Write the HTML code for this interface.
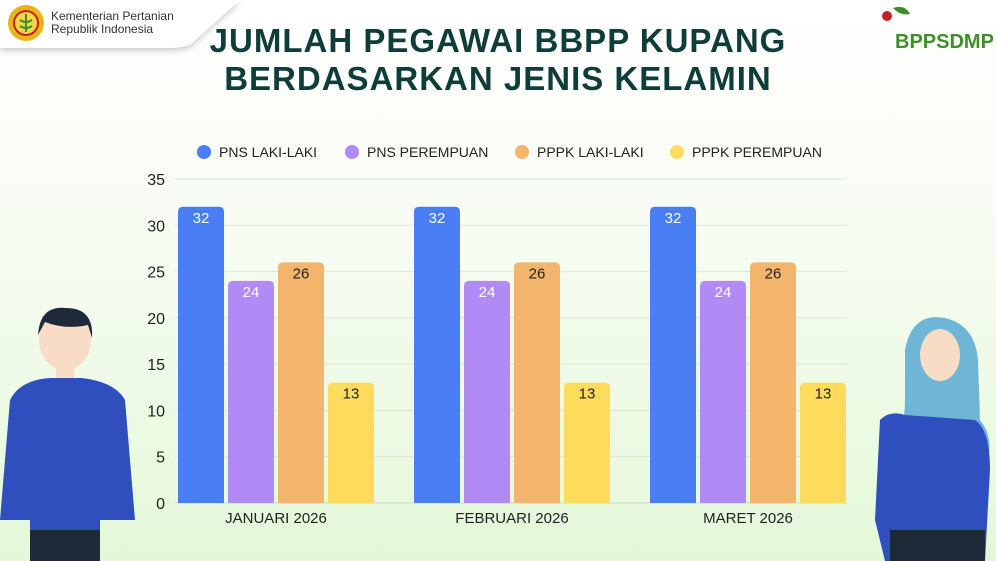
<!DOCTYPE html>
<html><head><meta charset="utf-8"><style>
body{margin:0;width:996px;height:561px;overflow:hidden;font-family:"Liberation Sans",sans-serif;}
#bg{position:absolute;left:0;top:0;width:996px;height:561px;background:linear-gradient(#ffffff 0%,#f7fcf3 40%,#e4f8d8 100%);}
</style></head><body>
<div id="bg"></div>
<svg width="996" height="561" style="position:absolute;left:0;top:0" id="chart">
<path d="M0 0 H240 L190 45 Q180 48 170 48 H0 Z" fill="#fff" style="filter:drop-shadow(0 3px 3px rgba(0,0,0,.18))"/>
<g><circle cx="26" cy="23" r="18" fill="#e8b517"/><circle cx="26" cy="23" r="13" fill="#c62026"/><circle cx="26" cy="23" r="11" fill="#f6d54a"/><path d="M26 14 V32 M20 20 Q26 24 32 20 M20 26 Q26 30 32 26" stroke="#3e8f2c" stroke-width="2" fill="none"/></g>
<text x="51" y="20" font-size="12" fill="#333">Kementerian Pertanian</text>
<text x="51" y="33" font-size="12" fill="#333">Republik Indonesia</text>
<text x="498" y="52" text-anchor="middle" font-size="33" font-weight="bold" letter-spacing="1" fill="#0f3d3a">JUMLAH PEGAWAI BBPP KUPANG</text>
<text x="498" y="90" text-anchor="middle" font-size="33" font-weight="bold" letter-spacing="1" fill="#0f3d3a">BERDASARKAN JENIS KELAMIN</text>
<g><circle cx="887" cy="16" r="5" fill="#c62026"/><path d="M893 8 Q905 4 910 14 Q900 16 893 8" fill="#3e8f2c"/><text x="895" y="48" font-size="20" font-weight="bold" fill="#3e8f2c">BPPSDMP</text></g>
<g id="people">
<g>
<ellipse cx="65" cy="340" rx="26" ry="30" fill="#f9dcc5"/><path d="M38 335 Q40 305 66 308 Q94 308 92 338 L88 325 Q65 330 45 322 Z" fill="#1e2a3a"/>
<rect x="56" y="365" width="18" height="18" fill="#f9dcc5"/>
<path d="M10 400 Q20 380 50 378 H82 Q115 382 125 400 L135 520 H100 V561 H30 V520 H0 Z" fill="#2f4fbf"/>
<path d="M30 530 H100 V561 H30 Z" fill="#1e2a3a"/></g>
<g>
<path d="M905 350 Q912 312 945 318 Q975 325 978 360 L980 420 Q996 440 985 470 H890 Q905 430 905 400 Z" fill="#6fb5d6"/>
<ellipse cx="940" cy="355" rx="20" ry="26" fill="#f9dcc5"/>
<path d="M880 420 Q890 410 905 415 L975 420 Q990 430 990 470 L985 561 H885 L875 520 Z" fill="#2f4fbf"/>
<path d="M890 530 H985 V561 H890 Z" fill="#1e2a3a"/></g>
</g>
<g id="legend"></g><g id="grid"></g><g id="bars"></g>
</svg>
<script>
const categories=["JANUARI 2026","FEBRUARI 2026","MARET 2026"];
const seriesNames=["PNS LAKI-LAKI","PNS PEREMPUAN","PPPK LAKI-LAKI","PPPK PEREMPUAN"];
const pnsLaki=[32,32,32];
const pnsPerempuan=[24,24,24];
const pppkLaki=[26,26,26];
const pppkPerempuan=[13,13,13];
const yTicks=[0,5,10,15,20,25,30,35];
const series=[pnsLaki,pnsPerempuan,pppkLaki,pppkPerempuan];
const colors=["#4a7ef5","#b18af5","#f2b56b","#fddc5c"];
const labelColors=["#fff","#fff","#222","#222"];
const NS="http://www.w3.org/2000/svg";
const y0=503,yTop=179,yMax=35;
const y=v=>y0-(v/yMax)*(y0-yTop);
const groupStart=i=>178+i*236;
const barX=(i,s)=>groupStart(i)+s*50;
function mk(tag,attrs,parent,text){const e=document.createElementNS(NS,tag);for(const k in attrs)e.setAttribute(k,attrs[k]);if(text!==undefined)e.textContent=text;parent.appendChild(e);return e;}
const grid=document.getElementById('grid'),bars=document.getElementById('bars'),legend=document.getElementById('legend');
yTicks.forEach(t=>{
 const l=mk('line',{x1:175,x2:847,y1:y(t),y2:y(t),stroke:t===0?'#c9dcc2':'#dbe8d5','stroke-width':1},grid);
 
 
 const tx=mk('text',{x:165,y:y(t)+6,'text-anchor':'end','font-size':16,fill:'#222'},grid,String(t));
 
 
});
categories.forEach((c,i)=>{
 series.forEach((arr,s)=>{
  const v=arr[i];
  const r=mk('path',{d:`M${barX(i,s)} ${y0} V${y(v)+5} Q${barX(i,s)} ${y(v)} ${barX(i,s)+5} ${y(v)} H${barX(i,s)+41} Q${barX(i,s)+46} ${y(v)} ${barX(i,s)+46} ${y(v)+5} V${y0} Z`,fill:colors[s]},bars);
  
  
  const t=mk('text',{x:barX(i,s)+23,y:y(v)+16,'text-anchor':'middle','font-size':15,fill:labelColors[s]},bars,String(v));
  
  
 });
 const ct=mk('text',{x:groupStart(i)+98,y:523,'text-anchor':'middle','font-size':15,fill:'#222'},bars,c);
 
 
});
const legX=[204,352,522,677];
seriesNames.forEach((n,s)=>{
 const g=mk('g',{},legend);
 
 
 mk('circle',{cx:legX[s],cy:152,r:7,fill:colors[s]},g);
 mk('text',{x:legX[s]+15,y:157,'font-size':14,fill:'#222'},g,n);
});
</script>
</body></html>
